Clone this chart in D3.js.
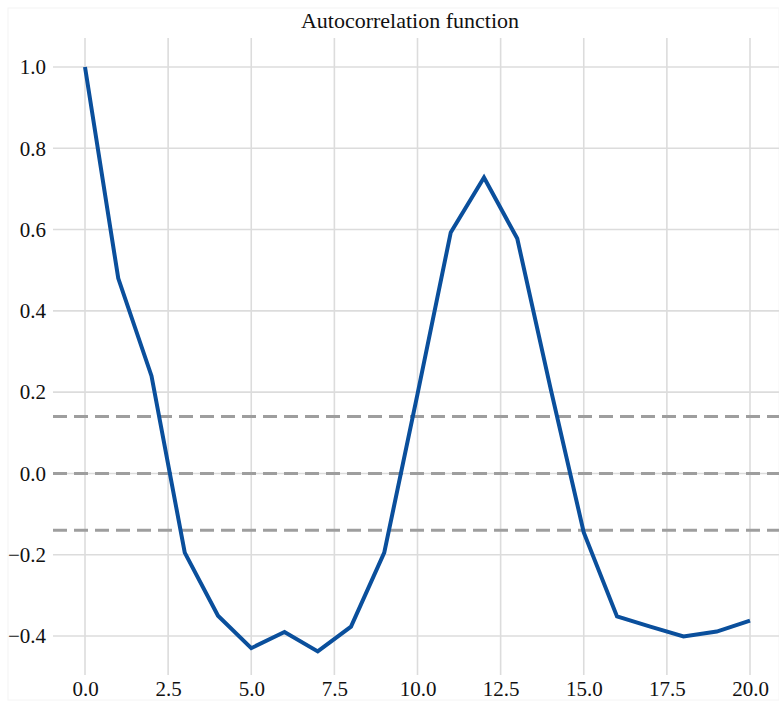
<!DOCTYPE html>
<html><head><meta charset="utf-8">
<script src="https://cdn.jsdelivr.net/npm/d3@7"></script>
<style>body{margin:0;background:#fff}</style>
</head><body>
<svg id="c" width="779" height="703"></svg>
<script>
const lags = d3.range(0, 21);
const acf = [1.0, 0.48, 0.24, -0.195, -0.35, -0.43, -0.39, -0.438, -0.377, -0.195, 0.195, 0.593, 0.728, 0.578, 0.21, -0.145, -0.352, -0.377, -0.401, -0.389, -0.362];
const confBand = [0.14, 0.0, -0.14];
const xTicks = [0, 2.5, 5, 7.5, 10, 12.5, 15, 17.5, 20];
const yTicks = [-0.4, -0.2, 0.0, 0.2, 0.4, 0.6, 0.8, 1.0];
const title = "Autocorrelation function";

const svg = d3.select("#c");
const x = d3.scaleLinear().domain([0, 20]).range([85, 750]);
const y = d3.scaleLinear().domain([-0.4, 1.0]).range([636, 67]);
const gLeft = 53, gRight = 779, gTop = 38, gBottom = 675;

svg.append("rect").attr("x", 8).attr("y", 8).attr("width", 771).attr("height", 692).attr("fill", "#fff").attr("stroke", "#f4f4f4");

// grid
svg.append("g").selectAll("line").data(xTicks).join("line")
  .attr("x1", d => x(d)).attr("x2", d => x(d)).attr("y1", gTop).attr("y2", gBottom)
  .attr("stroke", "#dcdcdc").attr("stroke-width", 1.6);
svg.append("g").selectAll("line").data(yTicks).join("line")
  .attr("x1", gLeft).attr("x2", gRight).attr("y1", d => y(d)).attr("y2", d => y(d))
  .attr("stroke", "#dcdcdc").attr("stroke-width", 1.6);

// axes labels
const fmt = d3.format(".1f");
const xAxis = d3.axisBottom(x).tickValues(xTicks).tickFormat(fmt).tickSize(0).tickPadding(0);
const gx = svg.append("g").attr("transform", `translate(0,${gBottom + 6})`).call(xAxis);
const yAxis = d3.axisLeft(y).tickValues(yTicks).tickFormat(fmt).tickSize(0).tickPadding(0);
const gy = svg.append("g").attr("transform", `translate(46,0)`).call(yAxis);
[gx, gy].forEach(g => {
  g.select(".domain").remove();
  g.selectAll("text").attr("font-family", "Liberation Serif, serif").attr("font-size", 21).attr("fill", "#111");
});

// dashed reference lines
svg.append("g").selectAll("line").data(confBand).join("line")
  .attr("x1", gLeft).attr("x2", gRight).attr("y1", d => y(d)).attr("y2", d => y(d))
  .attr("stroke", "#9e9e9e").attr("stroke-width", 3).attr("stroke-dasharray", "14,7");

// ACF line
const line = d3.line().x((d, i) => x(lags[i])).y(d => y(d));
svg.append("path").datum(acf).attr("d", line)
  .attr("fill", "none").attr("stroke", "#0a4f9c").attr("stroke-width", 4)
  .attr("stroke-linejoin", "miter");

// title
svg.append("text").attr("x", 410).attr("y", 28).attr("text-anchor", "middle")
  .attr("font-family", "Liberation Serif, serif").attr("font-size", 22).attr("fill", "#111").text(title);
</script>
</body></html>
